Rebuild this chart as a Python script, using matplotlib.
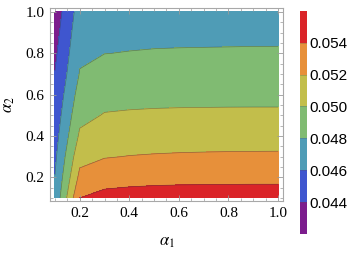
import numpy as np
import matplotlib
matplotlib.use("Agg")
import matplotlib.pyplot as plt
from matplotlib.colors import ListedColormap, BoundaryNorm
from matplotlib.ticker import MultipleLocator

# grid
alpha1 = [0.1, 0.2, 0.3, 0.4, 0.5, 0.6, 0.7, 0.8, 0.9, 1.0]
alpha2 = [0.1, 0.2, 0.3, 0.4, 0.5, 0.6, 0.7, 0.8, 0.9, 1.0]

# values along alpha2 for each alpha1 column
z_a1_01 = [0.04644, 0.04604, 0.04564, 0.04525, 0.04485, 0.04446, 0.04406, 0.04366, 0.04327, 0.04287]
z_a1_02 = [0.05400, 0.05250, 0.05140, 0.05030, 0.04950, 0.04880, 0.04810, 0.04770, 0.04730, 0.04690]
z_a1_03 = [0.05460, 0.05320, 0.05190, 0.05090, 0.05010, 0.04940, 0.04870, 0.04798, 0.04750, 0.04710]
z_a1_04 = [0.05470, 0.05340, 0.05205, 0.05110, 0.05020, 0.04945, 0.04875, 0.04805, 0.04760, 0.04715]
z_a1_05 = [0.05475, 0.05350, 0.05213, 0.05118, 0.05025, 0.04950, 0.04878, 0.04810, 0.04765, 0.04718]
z_a1_06 = [0.05478, 0.05355, 0.05218, 0.05124, 0.05028, 0.04952, 0.04879, 0.04812, 0.04767, 0.04719]
z_a1_07 = [0.05479, 0.05357, 0.05221, 0.05127, 0.05029, 0.04953, 0.04880, 0.04813, 0.04768, 0.04720]
z_a1_08 = [0.05480, 0.05358, 0.05223, 0.05129, 0.05030, 0.04954, 0.04880, 0.04814, 0.04769, 0.04720]
z_a1_09 = [0.05480, 0.05360, 0.05224, 0.05130, 0.05030, 0.04955, 0.04880, 0.04815, 0.04770, 0.04720]
z_a1_10 = [0.05480, 0.05360, 0.05225, 0.05130, 0.05030, 0.04955, 0.04880, 0.04815, 0.04770, 0.04720]

levels = [0.042, 0.044, 0.046, 0.048, 0.050, 0.052, 0.054, 0.056]
cbar_ticks = [0.044, 0.046, 0.048, 0.050, 0.052, 0.054]
band_colors = ["#7C1D8D", "#3F56CF", "#4F9CB6", "#80BB72", "#C2BE4B", "#E7903A", "#DA2428"]

Z = np.array([z_a1_01, z_a1_02, z_a1_03, z_a1_04, z_a1_05,
              z_a1_06, z_a1_07, z_a1_08, z_a1_09, z_a1_10]).T
X, Y = np.meshgrid(alpha1, alpha2)

plt.rcParams["mathtext.fontset"] = "stix"

fig = plt.figure(figsize=(3.53, 2.54), dpi=100)
ax = fig.add_axes([0.1416, 0.2087, 0.660, 0.760])
cmap = ListedColormap(band_colors)
norm = BoundaryNorm(levels, cmap.N)
cf = ax.contourf(X, Y, Z, levels=levels, cmap=cmap, norm=norm)
ax.contour(X, Y, Z, levels=levels[1:-1], colors="#3a3a3a", linewidths=0.5, alpha=0.5)

ax.set_xlim(0.08, 1.02)
ax.set_ylim(0.0855, 1.0195)
ax.xaxis.set_minor_locator(MultipleLocator(0.05))
ax.yaxis.set_minor_locator(MultipleLocator(0.05))
ax.set_xticks([0.2, 0.4, 0.6, 0.8, 1.0])
ax.set_yticks([0.2, 0.4, 0.6, 0.8, 1.0])
ax.set_xticklabels(["0.2", "0.4", "0.6", "0.8", "1.0"])
ax.set_yticklabels(["0.2", "0.4", "0.6", "0.8", "1.0"])
ax.tick_params(which="both", direction="in", top=True, right=True, color="#9a9a9a",
               labelsize=11)
ax.tick_params(which="major", length=4, width=0.6, pad=4)
ax.tick_params(which="minor", length=2, width=0.5)
for lab in ax.get_xticklabels() + ax.get_yticklabels():
    lab.set_fontfamily("Liberation Serif")
for s in ax.spines.values():
    s.set_color("#a8a8a8")
    s.set_linewidth(0.8)

ax.set_xlabel(r"$\alpha_1$", fontsize=12, labelpad=9)
ax.set_ylabel(r"$\alpha_2$", fontsize=12, labelpad=6)

cax = fig.add_axes([0.850, 0.079, 0.019, 0.878])
cb = fig.colorbar(cf, cax=cax, ticks=cbar_ticks)
cb.outline.set_visible(False)
cb.ax.minorticks_off()
cb.ax.tick_params(which="both", length=0, pad=2, labelsize=11)
cb.ax.set_yticklabels([f"{t:.3f}" for t in cbar_ticks])
for lab in cb.ax.get_yticklabels():
    lab.set_fontfamily("Liberation Sans")
for y in levels[1:-1]:
    cb.ax.axhline(y, color="#555555", lw=0.4, alpha=0.5)

fig.savefig("out.png", dpi=100)
